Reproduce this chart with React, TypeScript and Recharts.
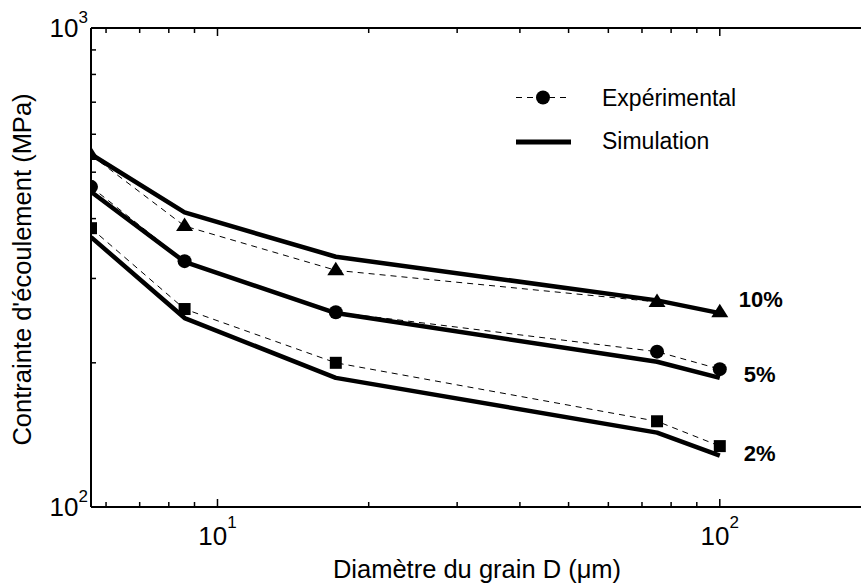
import React from "react";
import { LineChart, Line, XAxis, YAxis, LabelList, ReferenceLine } from "recharts";

const diameters = [5.6, 8.6, 17.2, 75, 100];
const exp10 = [543, 386, 312, 268, 255];
const sim10 = [545, 412, 333, 270, 254];
const exp5 = [466, 326, 255, 211, 194];
const sim5 = [455, 325, 254, 201, 186];
const exp2 = [382, 259, 200, 151, 134];
const sim2 = [366, 248, 186, 143, 128];

const xTicks = [6, 7, 8, 9, 10, 20, 30, 40, 50, 60, 70, 80, 90, 100];
const yTicks = [100, 200, 300, 400, 500, 600, 700, 800, 900, 1000];
const curveLabels = ["10%", "5%", "2%"];
const legendLabels = ["Expérimental", "Simulation"];
const xTitle = "Diamètre du grain D (μm)";
const yTitle = "Contrainte d'écoulement (MPa)";

const data = diameters.map((d, i) => ({
  d,
  exp10: exp10[i],
  sim10: sim10[i],
  exp5: exp5[i],
  sim5: sim5[i],
  exp2: exp2[i],
  sim2: sim2[i],
}));

const FONT = "'Liberation Sans', Arial, sans-serif";

const isMajor = (v: number) => Math.abs(Math.log10(v) - Math.round(Math.log10(v))) < 1e-9;

const BottomTick = (p: any) => {
  const v = p.payload.value;
  const major = isMajor(v);
  return (
    <g>
      <line x1={p.x} y1={p.y} x2={p.x} y2={p.y - (major ? 8 : 5)} stroke="#000" strokeWidth={1.5} />
      {major && (
        <text x={p.x} y={p.y + 38} textAnchor="middle" fontFamily={FONT} fontSize={26} fill="#000">
          <tspan>10</tspan>
          <tspan dy={-17} fontSize={17}>{Math.round(Math.log10(v))}</tspan>
        </text>
      )}
    </g>
  );
};

const TopTick = (p: any) => {
  const major = isMajor(p.payload.value);
  return (
    <g>
      <line x1={p.x} y1={p.y} x2={p.x} y2={p.y + (major ? 8 : 5)} stroke="#000" strokeWidth={1.5} />
    </g>
  );
};

const LeftTick = (p: any) => {
  const v = p.payload.value;
  const major = isMajor(v);
  return (
    <g>
      <line x1={p.x} y1={p.y} x2={p.x + (major ? 8 : 5)} y2={p.y} stroke="#000" strokeWidth={1.5} />
      {major && (
        <text x={p.x - 3} y={p.y + 9} textAnchor="end" fontFamily={FONT} fontSize={26} fill="#000">
          <tspan>10</tspan>
          <tspan dy={-14} fontSize={17}>{Math.round(Math.log10(v))}</tspan>
        </text>
      )}
    </g>
  );
};

const Triangle = (p: any) => {
  const { cx, cy } = p;
  if (cx == null || cy == null) return <g key={p.key} />;
  return <polygon key={p.key} points={`${cx},${cy - 8.5} ${cx - 8.5},${cy + 5} ${cx + 8.5},${cy + 5}`} fill="#000" />;
};
const Dot = (p: any) => {
  const { cx, cy } = p;
  if (cx == null || cy == null) return <g key={p.key} />;
  return <circle key={p.key} cx={cx} cy={cy} r={7} fill="#000" />;
};
const Square = (p: any) => {
  const { cx, cy } = p;
  if (cx == null || cy == null) return <g key={p.key} />;
  return <rect key={p.key} x={cx - 6} y={cy - 6} width={12} height={12} fill="#000" />;
};

const makeEndLabel = (text: string, dx: number, dy: number) => (p: any) => {
  if (p.index !== diameters.length - 1) return null;
  return (
    <text x={p.x + dx} y={p.y + dy} fontFamily={FONT} fontWeight="bold" fontSize={22} fill="#000">
      {text}
    </text>
  );
};

const XTitle = (p: any) => {
  const vb = p.viewBox;
  return (
    <text x={vb.x + vb.width / 2 - 4} y={vb.y + 71} textAnchor="middle" fontFamily={FONT} fontSize={25.5} fill="#000">
      {xTitle}
    </text>
  );
};

const YTitle = (p: any) => {
  const vb = p.viewBox;
  const cx = 31;
  const cy = vb.y + vb.height / 2 + 2;
  return (
    <text x={cx} y={cy} transform={`rotate(-90, ${cx}, ${cy})`} textAnchor="middle" fontFamily={FONT} fontSize={25.5} fill="#000">
      {yTitle}
    </text>
  );
};

const dashed = { stroke: "#000", strokeWidth: 1, strokeDasharray: "6 5" };
const solid = { stroke: "#000", strokeWidth: 4.5, strokeLinejoin: "round" as const };

export default function App() {
  return (
    <div style={{ position: "absolute", left: 0, top: 0, width: 861, height: 584, overflow: "hidden", background: "#fff" }}>
      <LineChart width={900} height={584} data={data} margin={{ top: 0, right: 29, left: 0, bottom: 0 }}>
        <XAxis
          xAxisId="bottom"
          dataKey="d"
          type="number"
          scale="log"
          domain={[5.6, 200]}
          allowDataOverflow
          ticks={xTicks}
          interval={0}
          height={77}
          tickSize={0}
          tickMargin={0}
          tickLine={false}
          axisLine={{ stroke: "#000", strokeWidth: 2 }}
          tick={(p: any) => <BottomTick {...p} />}
          label={(p: any) => <XTitle {...p} />}
        />
        <XAxis
          xAxisId="top"
          orientation="top"
          dataKey="d"
          type="number"
          scale="log"
          domain={[5.6, 200]}
          allowDataOverflow
          ticks={xTicks}
          interval={0}
          height={28}
          tickSize={0}
          tickMargin={0}
          tickLine={false}
          axisLine={{ stroke: "#000", strokeWidth: 2 }}
          tick={(p: any) => <TopTick {...p} />}
        />
        <YAxis
          yAxisId="left"
          type="number"
          scale="log"
          domain={[100, 1000]}
          allowDataOverflow
          ticks={yTicks}
          interval={0}
          width={91}
          tickSize={0}
          tickMargin={0}
          tickLine={false}
          axisLine={{ stroke: "#000", strokeWidth: 2 }}
          tick={(p: any) => <LeftTick {...p} />}
          label={(p: any) => <YTitle {...p} />}
        />
        <ReferenceLine xAxisId="bottom" yAxisId="left" y={1000} stroke="#000" strokeWidth={2} ifOverflow="visible" />
        <Line xAxisId="bottom" yAxisId="left" dataKey="exp10" type="linear" {...dashed} dot={(p: any) => <Triangle {...p} />} activeDot={false} isAnimationActive={false} />
        <Line xAxisId="bottom" yAxisId="left" dataKey="exp5" type="linear" {...dashed} dot={(p: any) => <Dot {...p} />} activeDot={false} isAnimationActive={false} />
        <Line xAxisId="bottom" yAxisId="left" dataKey="exp2" type="linear" {...dashed} dot={(p: any) => <Square {...p} />} activeDot={false} isAnimationActive={false} />
        <Line xAxisId="bottom" yAxisId="left" dataKey="sim10" type="linear" {...solid} dot={false} activeDot={false} isAnimationActive={false}>
          <LabelList dataKey="sim10" content={makeEndLabel(curveLabels[0], 19, -6)} />
        </Line>
        <Line xAxisId="bottom" yAxisId="left" dataKey="sim5" type="linear" {...solid} dot={false} activeDot={false} isAnimationActive={false}>
          <LabelList dataKey="sim5" content={makeEndLabel(curveLabels[1], 24, 4)} />
        </Line>
        <Line xAxisId="bottom" yAxisId="left" dataKey="sim2" type="linear" {...solid} dot={false} activeDot={false} isAnimationActive={false}>
          <LabelList dataKey="sim2" content={makeEndLabel(curveLabels[2], 24, 5)} />
        </Line>
      </LineChart>
      <svg style={{ position: "absolute", left: 0, top: 0, pointerEvents: "none" }} width={861} height={584}>
        <line x1={516} y1={97.5} x2={571} y2={97.5} stroke="#000" strokeWidth={1} strokeDasharray="6 5" />
        <circle cx={543} cy={97.5} r={7} fill="#000" />
        <text x={602} y={106} fontFamily={FONT} fontSize={23} fill="#000">{legendLabels[0]}</text>
        <line x1={516} y1={142} x2={571} y2={142} stroke="#000" strokeWidth={5} />
        <text x={602} y={149} fontFamily={FONT} fontSize={23} fill="#000">{legendLabels[1]}</text>
      </svg>
    </div>
  );
}
